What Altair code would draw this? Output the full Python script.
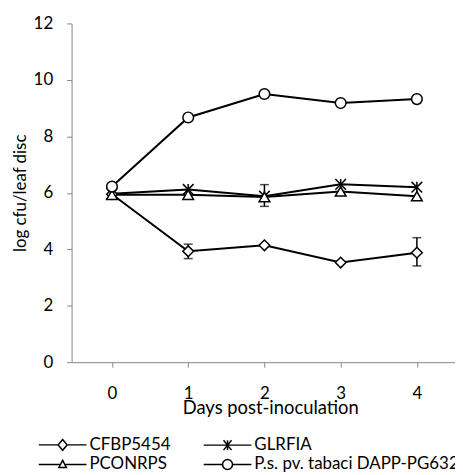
import altair as alt
import pandas as pd

days = [0, 1, 2, 3, 4]
series_names = ["CFBP5454", "GLRFIA", "PCONRPS", "P.s. pv. tabaci DAPP-PG632"]
cfbp5454 = [5.95, 3.93, 4.14, 3.53, 3.88]
glrfia = [5.97, 6.12, 5.88, 6.3, 6.2]
pconrps = [5.93, 5.93, 5.85, 6.05, 5.88]
tabaci = [6.22, 8.67, 9.5, 9.18, 9.32]

err_series = ["CFBP5454", "CFBP5454", "PCONRPS"]
err_day = [1, 4, 2]
err_lo = [3.67, 3.41, 5.52]
err_hi = [4.18, 4.41, 6.29]

y_ticks = [0, 2, 4, 6, 8, 10, 12]
x_ticks = [0, 1, 2, 3, 4]

# marker shapes in the plot
marker_paths = [
    "diamond",
    "M-1,-1L1,1M-1,1L1,-1M0,-1L0,1",
    "triangle-up",
    "circle",
]
# legend symbols: line with marker (unit = 10 px at symbol size 400)
legend_paths = [
    "M-2.4,0L-0.48,0M0.48,0L2.4,0M0,-0.55L0.45,0L0,0.55L-0.45,0Z",
    "M-2.4,0L2.4,0M-0.4,-0.5L0.4,0.5M-0.4,0.5L0.4,-0.5M0,-0.5L0,0.5",
    "M-2.4,0L-0.25,0M0.25,0L2.4,0M0,-0.42L0.38,0.3L-0.38,0.3Z",
    "M-2.4,0L-0.5,0M0.5,0L2.4,0M0.5,0A0.5,0.5,0,1,1,-0.5,0A0.5,0.5,0,1,1,0.5,0Z",
]

rows = []
for name, vals in zip(series_names, [cfbp5454, glrfia, pconrps, tabaci]):
    for d, v in zip(days, vals):
        rows.append({"series": name, "series_leg": name, "day": d, "value": v})
df = pd.DataFrame(rows)
err_df = pd.DataFrame({"series": err_series, "day": err_day, "lo": err_lo, "hi": err_hi})

FONT = "Lato"
xscale = alt.Scale(domain=[-0.53, 4.5], nice=False, zero=False)
yscale = alt.Scale(domain=[0, 12], nice=False)

x_axis = alt.Axis(values=x_ticks, title="Days post-inoculation", grid=False,
                  domainColor="#868686", tickColor="#868686", tickSize=5,
                  labelFontSize=17, labelColor="black", labelFont=FONT, labelPadding=19,
                  titleFontSize=18.5, titleFont=FONT, titleFontWeight="normal",
                  titleColor="black", titlePadding=-3, titleX=200, format="d")
y_axis = alt.Axis(values=y_ticks, title="log cfu/leaf disc", grid=False,
                  domainColor="#868686", tickColor="#868686", tickSize=5,
                  labelFontSize=17, labelColor="black", labelFont=FONT, labelPadding=14,
                  titleFontSize=17, titleFont=FONT, titleFontWeight="normal",
                  titleColor="black", titlePadding=4, format="d")

base = alt.Chart(df)

lines = base.mark_line(color="black", strokeWidth=2).encode(
    x=alt.X("day:Q", scale=xscale, axis=x_axis),
    y=alt.Y("value:Q", scale=yscale, axis=y_axis),
    detail="series:N",
)

err = alt.Chart(err_df)
err_rules = err.mark_rule(color="black", strokeWidth=1.5).encode(
    x="day:Q", y="lo:Q", y2="hi:Q")
cap_lo = err.mark_tick(color="black", orient="horizontal", size=9, thickness=1.5).encode(
    x="day:Q", y="lo:Q")
cap_hi = err.mark_tick(color="black", orient="horizontal", size=9, thickness=1.5).encode(
    x="day:Q", y="hi:Q")

points = base.mark_point(filled=False, fill="white", stroke="black", strokeWidth=1.5,
                         size=115, opacity=1).encode(
    x="day:Q",
    y="value:Q",
    shape=alt.Shape("series:N", scale=alt.Scale(domain=series_names, range=marker_paths),
                    legend=None),
)

# legend-only layer: its points are shifted outside the clipped plot area
legend_layer = base.transform_calculate(hidden_y="datum.value + 1000").mark_point(
    filled=False, fill="white", stroke="black", strokeWidth=1.5, opacity=1, clip=True).encode(
    x="day:Q",
    y="hidden_y:Q",
    shape=alt.Shape("series_leg:N", scale=alt.Scale(domain=series_names, range=legend_paths),
                    legend=alt.Legend(title=None, orient="none", legendX=-20, legendY=413,
                                      direction="horizontal",
                                      columns=2, columnPadding=30, rowPadding=0,
                                      symbolSize=400, labelFont=FONT, labelFontSize=17,
                                      labelColor="black", labelOffset=16, labelLimit=300)),
)

chart = alt.layer(lines, err_rules, cap_lo, cap_hi, legend_layer, points).resolve_scale(
    shape="independent"
).properties(
    width=386, height=341,
    autosize=alt.AutoSizeParams(type="none"),
    padding={"left": 64, "top": 14, "right": 0, "bottom": 110},
).configure_view(stroke=None)

chart.save("out.html", embed_options={"renderer": "svg", "actions": False})
